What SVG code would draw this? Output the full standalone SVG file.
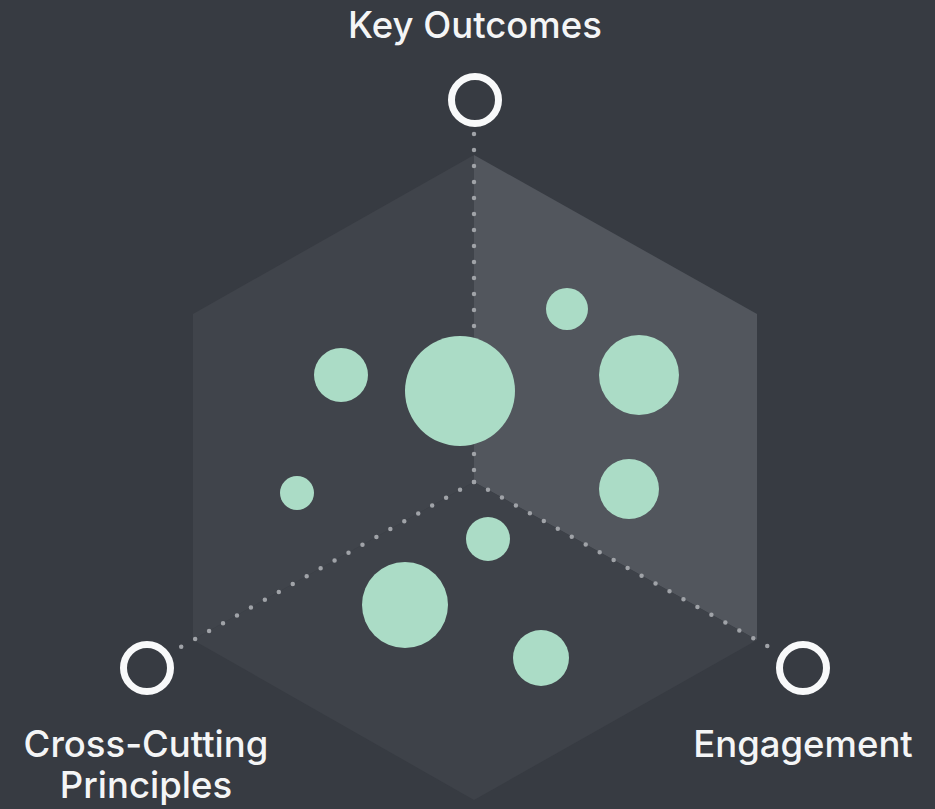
<svg xmlns="http://www.w3.org/2000/svg" width="935" height="809" viewBox="0 0 935 809">
<style>
.lbl{font-family:Inter,"Liberation Sans",sans-serif;font-size:36.5px;font-weight:500;fill:#f4f5f6;text-anchor:middle}
.axis{fill:none;stroke:#f8f9fa;stroke-width:7}
.dot{fill:none;stroke:#a0a3a8;stroke-width:4.5;stroke-linecap:round;stroke-dasharray:0 16}
.bub{fill:#abdcc6}
</style>
<rect width="935" height="809" fill="#373b42"/>
<g id="cube">
<polygon points="474,155 193,314 193,640 474,482" fill="#40444b"/>
<polygon points="474,155 474,482 757,640 757,314" fill="#52565d"/>
<polygon points="474,482 757,640 474,800 193,640" fill="#3e4249"/>
</g>
<g id="connectors">
<line class="dot" x1="474" y1="134" x2="474" y2="482"/>
<line class="dot" x1="474" y1="482" x2="778" y2="652"/>
<line class="dot" x1="474" y1="482" x2="172" y2="652"/>
</g>
<g id="bubbles">
<circle class="bub" cx="341" cy="375" r="27"/>
<circle class="bub" cx="460" cy="391" r="55"/>
<circle class="bub" cx="567" cy="309" r="21"/>
<circle class="bub" cx="639" cy="375" r="40"/>
<circle class="bub" cx="629" cy="489" r="30"/>
<circle class="bub" cx="297" cy="493" r="17"/>
<circle class="bub" cx="488" cy="539" r="22"/>
<circle class="bub" cx="405" cy="605" r="43"/>
<circle class="bub" cx="541" cy="658" r="28"/>
</g>
<g id="node-key-outcomes">
<circle class="axis" cx="475" cy="100" r="23.5"/>
<text class="lbl" x="475" y="38">Key Outcomes</text>
</g>
<g id="node-engagement">
<circle class="axis" cx="803" cy="668" r="23.5"/>
<text class="lbl" x="803" y="757">Engagement</text>
</g>
<g id="node-cross-cutting">
<circle class="axis" cx="147" cy="668" r="23.5"/>
<text class="lbl" x="146" y="757">Cross-Cutting</text>
<text class="lbl" x="146" y="798">Principles</text>
</g>
</svg>
